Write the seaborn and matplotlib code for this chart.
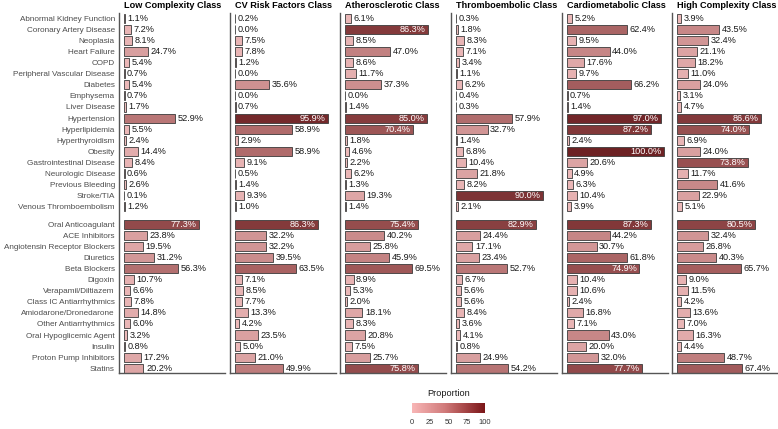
import numpy as np
import pandas as pd
import seaborn as sns
import matplotlib.pyplot as plt
from matplotlib.colors import LinearSegmentedColormap, Normalize
from matplotlib.cm import ScalarMappable

comorbidities = [
    "Abnormal Kidney Function", "Coronary Artery Disease", "Neoplasia", "Heart Failure", "COPD",
    "Peripheral Vascular Disease", "Diabetes", "Emphysema", "Liver Disease", "Hypertension",
    "Hyperlipidemia", "Hyperthyroidism", "Obesity", "Gastrointestinal Disease", "Neurologic Disease",
    "Previous Bleeding", "Stroke/TIA", "Venous Thromboembolism",
]
medications = [
    "Oral Anticoagulant", "ACE Inhibitors", "Angiotensin Receptor Blockers", "Diuretics", "Beta Blockers",
    "Digoxin", "Verapamil/Diltiazem", "Class IC Antiarrhythmics", "Amiodarone/Dronedarone",
    "Other Antiarrhythmics", "Oral Hypoglicemic Agent", "Insulin", "Proton Pump Inhibitors", "Statins",
]
classes = [
    "Low Complexity Class", "CV Risk Factors Class", "Atherosclerotic Class",
    "Thromboembolic Class", "Cardiometabolic Class", "High Complexity Class",
]

# comorbidity proportions per class (%)
low_comorb = [1.1, 7.2, 8.1, 24.7, 5.4, 0.7, 5.4, 0.7, 1.7, 52.9, 5.5, 2.4, 14.4, 8.4, 0.6, 2.6, 0.1, 1.2]
cv_comorb = [0.2, 0.0, 7.5, 7.8, 1.2, 0.0, 35.6, 0.0, 0.7, 95.9, 58.9, 2.9, 58.9, 9.1, 0.5, 1.4, 9.3, 1.0]
ath_comorb = [6.1, 86.3, 8.5, 47.0, 8.6, 11.7, 37.3, 0.0, 1.4, 85.0, 70.4, 1.8, 4.6, 2.2, 6.2, 1.3, 19.3, 1.4]
thr_comorb = [0.3, 1.8, 8.3, 7.1, 3.4, 1.1, 6.2, 0.4, 0.3, 57.9, 32.7, 1.4, 6.8, 10.4, 21.8, 8.2, 90.0, 2.1]
car_comorb = [5.2, 62.4, 9.5, 44.0, 17.6, 9.7, 66.2, 0.7, 1.4, 97.0, 87.2, 2.4, 100.0, 20.6, 4.9, 6.3, 10.4, 3.9]
hig_comorb = [3.9, 43.5, 32.4, 21.1, 18.2, 11.0, 24.0, 3.1, 4.7, 86.6, 74.0, 6.9, 24.0, 73.8, 11.7, 41.6, 22.9, 5.1]

# medication proportions per class (%)
low_meds = [77.3, 23.8, 19.5, 31.2, 56.3, 10.7, 6.6, 7.8, 14.8, 6.0, 3.2, 0.8, 17.2, 20.2]
cv_meds = [86.3, 32.2, 32.2, 39.5, 63.5, 7.1, 8.5, 7.7, 13.3, 4.2, 23.5, 5.0, 21.0, 49.9]
ath_meds = [75.4, 40.2, 25.8, 45.9, 69.5, 8.9, 5.3, 2.0, 18.1, 8.3, 20.8, 7.5, 25.7, 75.8]
thr_meds = [82.9, 24.4, 17.1, 23.4, 52.7, 6.7, 5.6, 5.6, 8.4, 3.6, 4.1, 0.8, 24.9, 54.2]
car_meds = [87.3, 44.2, 30.7, 61.8, 74.9, 10.4, 10.6, 2.4, 16.8, 7.1, 43.0, 20.0, 32.0, 77.7]
hig_meds = [80.5, 32.4, 26.8, 40.3, 65.7, 9.0, 11.5, 4.2, 13.6, 7.0, 16.3, 4.4, 48.7, 67.4]

comorb_values = [low_comorb, cv_comorb, ath_comorb, thr_comorb, car_comorb, hig_comorb]
med_values = [low_meds, cv_meds, ath_meds, thr_meds, car_meds, hig_meds]

sns.set_style("white")
plt.rcParams["font.family"] = ["Liberation Sans", "DejaVu Sans"]

# light pink -> dark red, kept fairly saturated through the middle
cmap = LinearSegmentedColormap.from_list(
    "prop", [(0.0, "#F8B6B6"), (0.45, "#D07A7A"), (0.65, "#B25454"), (1.0, "#7A1518")]
)
norm = Normalize(0, 100)

# row positions: small gap between comorbidities and medications
gap = 0.56
ypos = list(range(len(comorbidities))) + [len(comorbidities) + gap + i for i in range(len(medications))]
labels = comorbidities + medications

fig = plt.figure(figsize=(7.78, 4.29), dpi=100)
W, H = 778, 429
lefts = [119, 230, 340, 451, 562, 672]
ax_w = 106
top_px, bot_px = 12.7, 373.3

for i, cls in enumerate(classes):
    ax = fig.add_axes([lefts[i] / W, 1 - bot_px / H, ax_w / W, (bot_px - top_px) / H])
    df = pd.DataFrame({"y": ypos, "value": comorb_values[i] + med_values[i]})
    sns.barplot(
        data=df, x="value", y="y", hue="value", palette=cmap, hue_norm=(0, 100),
        orient="y", native_scale=True, dodge=False, legend=False, width=0.82,
        edgecolor="#3a3a3a", linewidth=0.6, ax=ax,
    )
    ax.set_xlim(-5.1, 104.4)
    ax.set_ylim(ypos[-1] + 0.45, -0.5)
    ax.set(xlabel=None, ylabel=None)
    ax.set_xticks([])
    ax.set_yticks(ypos)
    if i == 0:
        ax.set_yticklabels(labels, fontsize=5.85, color="#4d4d4d")
    else:
        ax.set_yticklabels([])
    ax.tick_params(axis="y", length=0, pad=3)
    for side in ["top", "right"]:
        ax.spines[side].set_visible(False)
    for side in ["left", "bottom"]:
        ax.spines[side].set_color("#555555")
        ax.spines[side].set_linewidth(1.0)

    for y, v in zip(ypos, df["value"]):
        if v >= 70:
            ax.annotate(f"{v:.1f}%", (v, y), xytext=(-1.8, 0), textcoords="offset points",
                        ha="right", va="center", fontsize=6.6, color="white")
        else:
            ax.annotate(f"{v:.1f}%", (v, y), xytext=(1.8, 0), textcoords="offset points",
                        ha="left", va="center", fontsize=6.6, color="#1a1a1a")

    ax.annotate(cls, (0, 1), xycoords=("data", "axes fraction"), xytext=(0, 3.4),
                textcoords="offset points", ha="left", va="baseline",
                fontsize=6.6, fontweight="bold", color="black")

# colorbar legend
cax = fig.add_axes([412 / W, 1 - 413 / H, 73 / W, 10 / H])
sm = ScalarMappable(norm=norm, cmap=cmap)
cb = fig.colorbar(sm, cax=cax, orientation="horizontal", ticks=[0, 25, 50, 75, 100])
cb.outline.set_visible(False)
cax.tick_params(axis="x", direction="in", colors="white", length=2, width=0.6,
                top=True, bottom=True, labelsize=5.4, labelcolor="#333333", pad=4)
cax.set_title("Proportion", fontsize=6.6, color="#1a1a1a", pad=5)

fig.savefig("out.png", dpi=100)
